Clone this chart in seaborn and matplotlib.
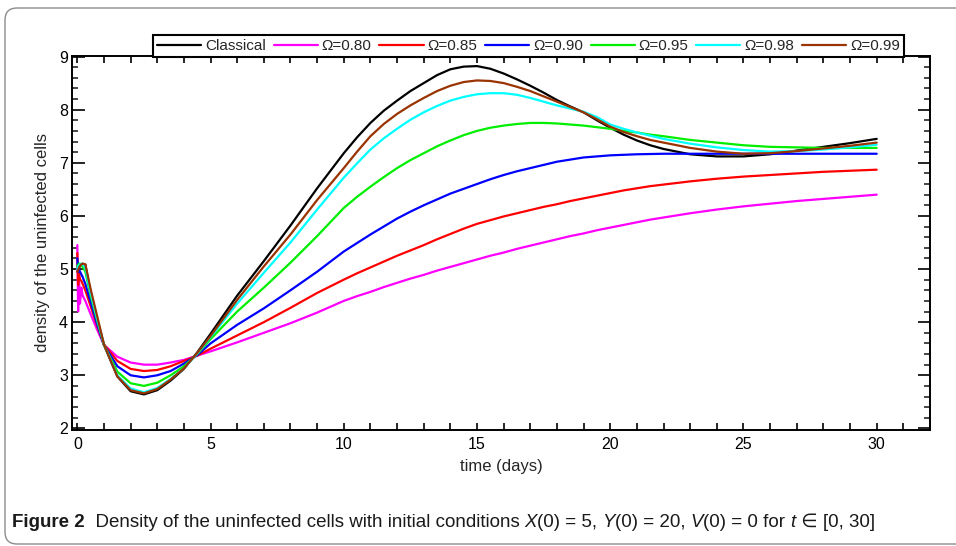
import numpy as np
import pandas as pd
import matplotlib
matplotlib.use('Agg')
from matplotlib import pyplot as plt
from matplotlib.patches import FancyBboxPatch
from matplotlib.transforms import IdentityTransform
from matplotlib.ticker import MultipleLocator
import seaborn as sns

# time grid (days)
time = [0, 0.03, 0.06, 0.1, 0.15, 0.2, 0.3, 0.5, 0.75, 1.0, 1.5, 2.0, 2.5, 3.0, 3.5, 4.0, 4.5,
        5, 6, 7, 8, 9,
        10, 10.5, 11, 11.5, 12, 12.5, 13, 13.5, 14, 14.5, 15, 15.5, 16, 16.5, 17, 17.5,
        18, 18.5, 19, 19.5, 20, 20.5, 21, 21.5, 22,
        23, 24, 25, 26, 27, 28, 29, 30]

classical = [4.95, 4.98, 5.02, 5.06, 5.09, 5.10, 5.08, 4.55, 4.05, 3.57, 2.98, 2.70, 2.64, 2.72, 2.90, 3.12, 3.43,
             3.78, 4.50, 5.15, 5.82, 6.52,
             7.18, 7.48, 7.75, 7.98, 8.17, 8.35, 8.50, 8.65, 8.76, 8.81, 8.82, 8.77, 8.68, 8.57, 8.45, 8.32,
             8.18, 8.06, 7.95, 7.80, 7.66, 7.53, 7.42, 7.33, 7.26,
             7.16, 7.12, 7.12, 7.16, 7.23, 7.30, 7.37, 7.45]
omega_080 = [5.45, 4.20, 4.85, 4.35, 4.65, 4.50, 4.40, 4.15, 3.85, 3.57, 3.35, 3.24, 3.20, 3.20, 3.24, 3.29, 3.37,
             3.45, 3.62, 3.80, 3.98, 4.18,
             4.40, 4.49, 4.57, 4.66, 4.74, 4.82, 4.89, 4.97, 5.04, 5.11, 5.18, 5.25, 5.31, 5.38, 5.44, 5.50,
             5.56, 5.62, 5.67, 5.73, 5.78, 5.83, 5.88, 5.93, 5.97,
             6.05, 6.12, 6.18, 6.23, 6.28, 6.32, 6.36, 6.40]
omega_085 = [5.30, 4.70, 4.95, 4.80, 4.78, 4.72, 4.60, 4.30, 3.92, 3.58, 3.27, 3.12, 3.08, 3.10, 3.17, 3.27, 3.37,
             3.50, 3.75, 4.00, 4.27, 4.55,
             4.80, 4.92, 5.03, 5.14, 5.25, 5.35, 5.45, 5.56, 5.66, 5.76, 5.85, 5.92, 5.99, 6.05, 6.11, 6.17,
             6.22, 6.28, 6.33, 6.38, 6.43, 6.48, 6.52, 6.56, 6.59,
             6.65, 6.70, 6.74, 6.77, 6.80, 6.83, 6.85, 6.87]
omega_090 = [5.20, 4.95, 5.00, 4.95, 4.90, 4.85, 4.72, 4.38, 3.95, 3.57, 3.17, 3.00, 2.96, 3.00, 3.08, 3.22, 3.38,
             3.60, 3.95, 4.26, 4.60, 4.95,
             5.33, 5.49, 5.65, 5.80, 5.95, 6.08, 6.20, 6.31, 6.42, 6.51, 6.60, 6.69, 6.77, 6.84, 6.90, 6.96,
             7.02, 7.06, 7.10, 7.12, 7.14, 7.15, 7.16, 7.165, 7.17,
             7.17, 7.17, 7.17, 7.17, 7.17, 7.17, 7.17, 7.17]
omega_095 = [5.05, 5.08, 5.10, 5.10, 5.08, 5.04, 4.95, 4.50, 4.02, 3.57, 3.07, 2.85, 2.80, 2.86, 3.00, 3.17, 3.40,
             3.68, 4.20, 4.65, 5.12, 5.62,
             6.15, 6.36, 6.55, 6.73, 6.90, 7.05, 7.18, 7.31, 7.42, 7.52, 7.60, 7.66, 7.70, 7.73, 7.75, 7.75,
             7.74, 7.72, 7.70, 7.67, 7.64, 7.60, 7.57, 7.53, 7.50,
             7.43, 7.38, 7.33, 7.30, 7.29, 7.28, 7.28, 7.28]
omega_098 = [5.00, 5.04, 5.07, 5.09, 5.10, 5.09, 5.02, 4.55, 4.05, 3.58, 3.00, 2.75, 2.68, 2.76, 2.93, 3.13, 3.41,
             3.72, 4.35, 4.93, 5.50, 6.12,
             6.72, 6.99, 7.25, 7.46, 7.64, 7.81, 7.95, 8.07, 8.17, 8.24, 8.29, 8.31, 8.31, 8.28, 8.22, 8.15,
             8.08, 8.02, 7.96, 7.86, 7.72, 7.64, 7.57, 7.51, 7.45,
             7.36, 7.29, 7.24, 7.21, 7.22, 7.25, 7.29, 7.34]
omega_099 = [4.95, 4.98, 5.02, 5.06, 5.09, 5.10, 5.09, 4.62, 4.10, 3.58, 2.98, 2.72, 2.66, 2.74, 2.92, 3.13, 3.42,
             3.74, 4.42, 5.05, 5.65, 6.30,
             6.90, 7.21, 7.50, 7.73, 7.92, 8.08, 8.22, 8.35, 8.45, 8.52, 8.55, 8.54, 8.50, 8.43, 8.35, 8.25,
             8.15, 8.05, 7.95, 7.82, 7.68, 7.58, 7.50, 7.43, 7.38,
             7.28, 7.21, 7.17, 7.18, 7.22, 7.27, 7.32, 7.38]

labels = ['Classical', 'Ω=0.80', 'Ω=0.85', 'Ω=0.90', 'Ω=0.95', 'Ω=0.98', 'Ω=0.99']
colors = ['#000000', '#ff00ff', '#ff0000', '#0000ff', '#00ee00', '#00ffff', '#993300']
curves = [classical, omega_080, omega_085, omega_090, omega_095, omega_098, omega_099]

df = pd.concat([pd.DataFrame({'time': time, 'density': c, 'curve': lab})
                for lab, c in zip(labels, curves)], ignore_index=True)

sns.set_theme(style='ticks')
plt.rcParams['font.family'] = ['Liberation Sans', 'DejaVu Sans']

fig = plt.figure(figsize=(9.56, 5.46), dpi=100)
ax = fig.add_axes([72 / 956, 1 - 430 / 546, (930 - 72) / 956, (430 - 56) / 546])

sns.lineplot(data=df, x='time', y='density', hue='curve', hue_order=labels,
             palette=colors, estimator=None, sort=False, lw=1.6, ax=ax)

ax.set_xlim(-0.2, 32)
ax.set_ylim(1.97, 9.01)
ax.xaxis.set_major_locator(MultipleLocator(5))
ax.xaxis.set_minor_locator(MultipleLocator(1))
ax.yaxis.set_major_locator(MultipleLocator(1))
ax.yaxis.set_minor_locator(MultipleLocator(0.2))
ax.tick_params(axis='x', which='both', direction='in', length=5, width=1.2,
               top=True, labelsize=11.5, pad=5, colors='black')
ax.tick_params(axis='y', which='major', direction='in', length=9, width=1.2,
               right=True, labelsize=11.5, pad=3, colors='black')
ax.tick_params(axis='y', which='minor', direction='in', length=4.5, width=1.2, right=True)
for s in ax.spines.values():
    s.set_linewidth(1.4)
    s.set_color('black')

ax.set_xlabel('time (days)', fontsize=12, labelpad=5)
ax.set_ylabel('density of the uninfected cells', fontsize=12, labelpad=6)

sns.move_legend(ax, 'lower center', bbox_to_anchor=(0.532, 0.998), ncol=7, title=None,
                frameon=True, fontsize=11, handlelength=2.9, handletextpad=0.25,
                columnspacing=0.5, borderpad=0.25, borderaxespad=0, fancybox=False,
                edgecolor='black', framealpha=1)
leg = ax.get_legend()
leg.get_frame().set_linewidth(1.5)
for h in leg.get_lines():
    h.set_linewidth(1.6)

# rounded outer frame
frame = FancyBboxPatch((5, 2), 1000, 536, boxstyle='round,pad=0,rounding_size=12',
                       ec='#8c8c8c', fc='none', lw=1.0)
fig.add_artist(frame)
frame.set_transform(IdentityTransform())

# caption
chunks = [('Figure 2', 'bold', 'normal'),
          ('  Density of the uninfected cells with initial conditions ', 'normal', 'normal'),
          ('X', 'normal', 'italic'), ('(0) = 5, ', 'normal', 'normal'),
          ('Y', 'normal', 'italic'), ('(0) = 20, ', 'normal', 'normal'),
          ('V', 'normal', 'italic'), ('(0) = 0 for ', 'normal', 'normal'),
          ('t', 'normal', 'italic'), (' ∈ [0, 30]', 'normal', 'normal')]
fig.canvas.draw()
renderer = fig.canvas.get_renderer()
xpos = 12
for txt, weight, style in chunks:
    t = fig.text(xpos / 956, 1 - 527 / 546, txt, fontsize=13.5, weight=weight, style=style,
                 family=['Liberation Sans', 'DejaVu Sans'],
                 color='#1a1a1a', ha='left', va='baseline')
    xpos += t.get_window_extent(renderer).width

fig.savefig('out.png', dpi=100)
